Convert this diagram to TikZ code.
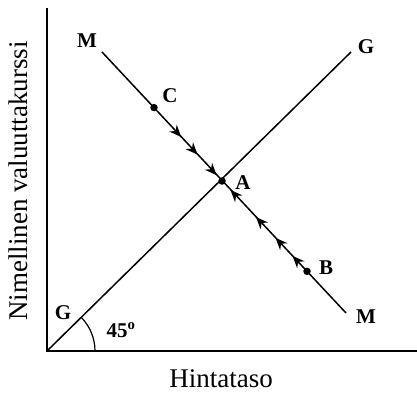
\documentclass[tikz,border=0pt]{standalone}
\usepackage{fontspec}
\setmainfont{Liberation Serif}
\usetikzlibrary{calc,arrows.meta}
\begin{document}
\begin{tikzpicture}[x=1pt,y=-1pt,
  axis/.style={line width=2.6pt},
  curve/.style={line width=1.5pt},
  lbl/.style={font=\fontsize{21}{21}\selectfont\bfseries, inner sep=0pt},
  axlbl/.style={font=\fontsize{27}{27}\selectfont, inner sep=0pt},
  dot/.style={circle, fill=black, inner sep=0pt, minimum size=7.5pt},
  tip/.style={-{Stealth[length=12pt,width=10pt]}}
]
\useasboundingbox (0,0) rectangle (417,393);
% axes
\coordinate (O) at (47,351);
\coordinate (Ytop) at (47,8);
\coordinate (Xend) at (417,351);
\draw[axis] (Ytop) -- (O) -- (Xend);
% lines
\coordinate (G1) at (351,52);
\coordinate (M1) at (102,52);
\coordinate (M2) at (346,313);
\node[dot] (C) at (154,107.6) {};
\node[dot] (A) at (222,181) {};
\node[dot] (B) at (307,271.3) {};
\draw[curve] (O) -- (G1);
\draw[curve] (M1) -- (M2);
% direction arrows C->A
\foreach \p in {0.4,0.64,0.92} {
  \draw[tip,curve] ($(C.center)!\p-0.08!(A.center)$) -- ($(C.center)!\p!(A.center)$);
}
% direction arrows B->A
\foreach \p in {0.17,0.37,0.6,0.9} {
  \draw[tip,curve] ($(B.center)!\p-0.06!(A.center)$) -- ($(B.center)!\p!(A.center)$);
}
% angle arc
\draw[line width=1.2pt] (95,351) arc[start angle=0,end angle=-44.5,radius=48];
% labels
\node[lbl] (lM1) at (87,41) {M};
\node[lbl] (lG1) at (366,47) {G};
\node[lbl] (lC) at (170,96) {C};
\node[lbl] (lA) at (243,183) {A};
\node[lbl] (lB) at (326,268) {B};
\node[lbl] (lM2) at (366,317) {M};
\node[lbl] (lG2) at (63,313) {G};
\node[lbl] (l45) at (121,330) {45$^{\mathbf{o}}$};
\node[axlbl, rotate=90] (ylab) at (18,181) {Nimellinen valuuttakurssi};
\node[axlbl] (xlab) at (221,379) {Hintataso};
\end{tikzpicture}
\end{document}
